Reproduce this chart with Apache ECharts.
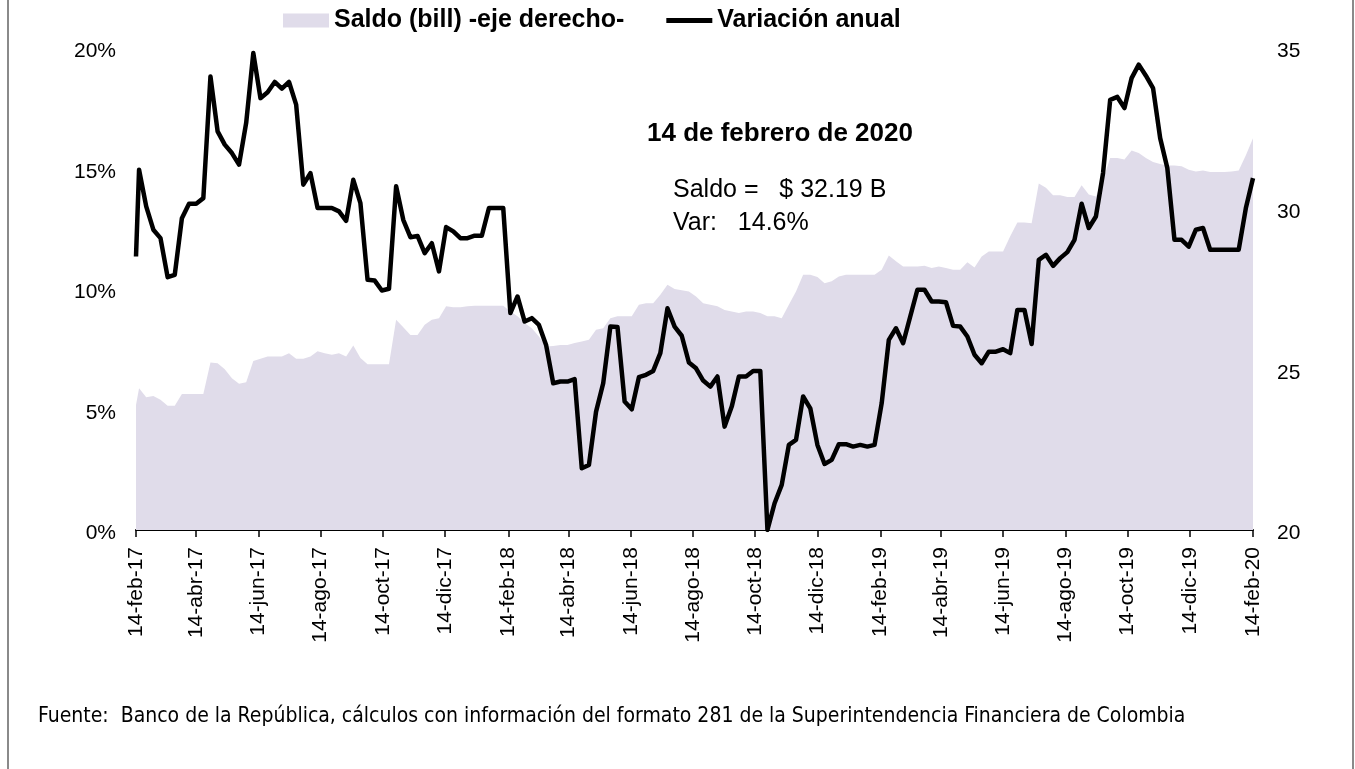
<!DOCTYPE html>
<html>
<head>
<meta charset="utf-8">
<script src="https://cdn.jsdelivr.net/npm/echarts@6/dist/echarts.min.js"></script>
<style>
  html, body { margin: 0; padding: 0; background: #fff; }
  #grafico { width: 1355px; height: 769px; }
</style>
</head>
<body>
<div id="grafico"></div>
<script>
// dias desde el 14-feb-17 en que cae cada marca del eje
var diasMarcas = [0, 59, 120, 181, 242, 303, 365, 424, 485, 546, 607, 668, 730, 789, 850, 911, 972, 1033, 1095];
var etiquetasMarcas = ['14-feb-17', '14-abr-17', '14-jun-17', '14-ago-17', '14-oct-17', '14-dic-17',
  '14-feb-18', '14-abr-18', '14-jun-18', '14-ago-18', '14-oct-18', '14-dic-18',
  '14-feb-19', '14-abr-19', '14-jun-19', '14-ago-19', '14-oct-19', '14-dic-19', '14-feb-20'];

// observaciones: 14-feb-17 y luego cada viernes (17-feb-17 ... 14-feb-20)
var fechasDias = [0];
for (var k = 0; k <= 156; k++) fechasDias.push(3 + 7 * k);

// Saldo (billones) -eje derecho-
var saldo = [
  23.89, 24.41, 24.13, 24.17, 24.05, 23.87, 23.87, 24.23, 24.23, 24.23,
  24.23, 25.21, 25.19, 25.00, 24.72, 24.55, 24.60, 25.26, 25.33, 25.40,
  25.40, 25.40, 25.50, 25.33, 25.33, 25.40, 25.56, 25.50, 25.45, 25.50,
  25.40, 25.74, 25.35, 25.16, 25.16, 25.16, 25.16, 26.54, 26.31, 26.07,
  26.07, 26.39, 26.54, 26.59, 26.96, 26.93, 26.93, 26.96, 26.98, 26.98,
  26.98, 26.98, 26.98, 26.80, 26.65, 26.44, 26.28, 26.02, 25.71, 25.73,
  25.76, 25.76, 25.82, 25.87, 25.92, 26.23, 26.28, 26.59, 26.65, 26.65,
  26.65, 27.01, 27.06, 27.06, 27.32, 27.63, 27.50, 27.46, 27.42, 27.27,
  27.06, 27.01, 26.96, 26.85, 26.80, 26.75, 26.80, 26.80, 26.75, 26.65,
  26.65, 26.59, 27.01, 27.42, 27.94, 27.94, 27.87, 27.68, 27.74, 27.89,
  27.94, 27.94, 27.94, 27.94, 27.94, 28.10, 28.54, 28.36, 28.20, 28.20,
  28.20, 28.22, 28.15, 28.20, 28.15, 28.10, 28.10, 28.33, 28.17, 28.51,
  28.67, 28.67, 28.67, 29.14, 29.57, 29.57, 29.55, 30.78, 30.65, 30.42,
  30.42, 30.36, 30.36, 30.73, 30.44, 30.38, 30.90, 31.58, 31.58, 31.53,
  31.81, 31.73, 31.58, 31.45, 31.39, 31.34, 31.34, 31.32, 31.21, 31.16,
  31.19, 31.14, 31.14, 31.14, 31.16, 31.19, 31.66, 32.19
];

// Variacion anual (%)
var variacion = [
  11.35, 14.95, 13.43, 12.46, 12.11, 10.49, 10.59, 12.94, 13.54, 13.54,
  13.77, 18.82, 16.54, 15.99, 15.64, 15.16, 16.89, 19.79, 17.92, 18.16,
  18.59, 18.31, 18.59, 17.65, 14.33, 14.81, 13.36, 13.36, 13.36, 13.22,
  12.83, 14.53, 13.56, 10.38, 10.35, 9.94, 10.01, 14.26, 12.87, 12.15,
  12.20, 11.49, 11.90, 10.73, 12.57, 12.39, 12.11, 12.11, 12.21, 12.21,
  13.36, 13.36, 13.36, 9.00, 9.69, 8.65, 8.79, 8.51, 7.68, 6.09,
  6.16, 6.16, 6.26, 2.56, 2.70, 4.91, 6.09, 8.44, 8.42, 5.33,
  5.01, 6.34, 6.44, 6.60, 7.34, 9.20, 8.44, 8.06, 6.95, 6.71,
  6.20, 5.95, 6.37, 4.29, 5.12, 6.37, 6.37, 6.60, 6.60, 0.00,
  1.11, 1.87, 3.53, 3.74, 5.54, 5.05, 3.53, 2.74, 2.91, 3.56,
  3.56, 3.46, 3.53, 3.46, 3.53, 5.26, 7.89, 8.37, 7.75, 8.86,
  9.97, 9.97, 9.48, 9.48, 9.45, 8.47, 8.44, 8.03, 7.27, 6.92,
  7.40, 7.40, 7.50, 7.34, 9.13, 9.13, 7.72, 11.21, 11.42, 10.96,
  11.28, 11.53, 12.04, 13.54, 12.53, 13.01, 14.81, 17.85, 17.97, 17.51,
  18.75, 19.31, 18.85, 18.34, 16.26, 15.02, 12.04, 12.04, 11.76, 12.46,
  12.53, 11.63, 11.63, 11.63, 11.63, 11.63, 13.36, 14.60
];

var fuente = "'Liberation Sans', Arial, sans-serif";

var chartDom = document.getElementById('grafico');
var myChart = echarts.init(chartDom);

var datosSaldo = fechasDias.map(function (d, i) { return [d, saldo[i]]; });
var datosVar = fechasDias.map(function (d, i) { return [d, variacion[i]]; });

// etiqueta un poco por debajo de la marca, como en el original
var richEje = { a: { fontSize: 21, color: '#000', fontFamily: fuente, padding: [7, 0, 0, 0] } };

var option = {
  backgroundColor: '#ffffff',
  animation: false,
  textStyle: { fontFamily: fuente, color: '#000' },
  grid: { left: 136, right: 102, top: 48, bottom: 239 },
  legend: {
    left: 278,
    top: 3,
    itemWidth: 46,
    itemHeight: 14,
    itemGap: 42,
    textStyle: { fontFamily: fuente, fontSize: 25, fontWeight: 'bold', color: '#000' },
    data: [
      { name: 'Saldo (bill) -eje derecho-', icon: 'rect' },
      { name: 'Variación anual', icon: 'path://M0,0 L48,0 L48,5 L0,5 Z' }
    ]
  },
  xAxis: {
    type: 'value',
    min: 0,
    max: 1095,
    axisLine: { lineStyle: { color: '#000', width: 2 } },
    axisTick: { customValues: diasMarcas, length: 7, lineStyle: { color: '#000', width: 1.5 } },
    axisLabel: {
      customValues: diasMarcas,
      rotate: 90,
      margin: 17,
      fontSize: 21,
      color: '#000',
      fontFamily: fuente,
      formatter: function (v) {
        var i = diasMarcas.indexOf(v);
        return i >= 0 ? etiquetasMarcas[i] : '';
      }
    },
    splitLine: { show: false }
  },
  yAxis: [
    {
      type: 'value',
      min: 0,
      max: 20,
      interval: 5,
      axisLine: { show: false },
      axisTick: { show: false },
      splitLine: { show: false },
      axisLabel: { formatter: '{a|{value}%}', rich: richEje, margin: 20 }
    },
    {
      type: 'value',
      min: 20,
      max: 35,
      interval: 5,
      position: 'right',
      axisLine: { show: false },
      axisTick: { show: false },
      splitLine: { show: false },
      axisLabel: { formatter: '{a|{value}}', rich: richEje, margin: 24 }
    }
  ],
  series: [
    {
      name: 'Saldo (bill) -eje derecho-',
      type: 'line',
      yAxisIndex: 1,
      showSymbol: false,
      symbol: 'none',
      color: '#E0DCEA',
      lineStyle: { width: 0 },
      areaStyle: { color: '#E0DCEA', opacity: 1, origin: 'start' },
      data: datosSaldo,
      z: 1
    },
    {
      name: 'Variación anual',
      type: 'line',
      yAxisIndex: 0,
      showSymbol: false,
      symbol: 'none',
      color: '#000',
      lineStyle: { color: '#000', width: 4.5, join: 'round' },
      data: datosVar,
      z: 3
    }
  ],
  graphic: [
    { type: 'line', shape: { x1: 8, y1: 0, x2: 8, y2: 769 }, style: { stroke: '#8a8a8a', lineWidth: 2 } },
    { type: 'line', shape: { x1: 1353, y1: 0, x2: 1353, y2: 769 }, style: { stroke: '#8a8a8a', lineWidth: 2 } },
    {
      type: 'text', left: 647, top: 121,
      style: { text: '14 de febrero de 2020', font: 'bold 26px ' + fuente, fill: '#000' }
    },
    {
      type: 'text', left: 673, top: 178,
      style: { text: 'Saldo =   $ 32.19 B', font: '25px ' + fuente, fill: '#000' }
    },
    {
      type: 'text', left: 673, top: 211,
      style: { text: 'Var:   14.6%', font: '25px ' + fuente, fill: '#000' }
    },
    {
      type: 'text', left: 38, top: 706,
      style: {
        text: 'Fuente:  Banco de la República, cálculos con información del formato 281 de la Superintendencia Financiera de Colombia',
        font: "21px 'Liberation Sans Narrow', 'DejaVu Sans Condensed', sans-serif",
        fill: '#000'
      }
    }
  ]
};

myChart.setOption(option);
</script>
</body>
</html>
